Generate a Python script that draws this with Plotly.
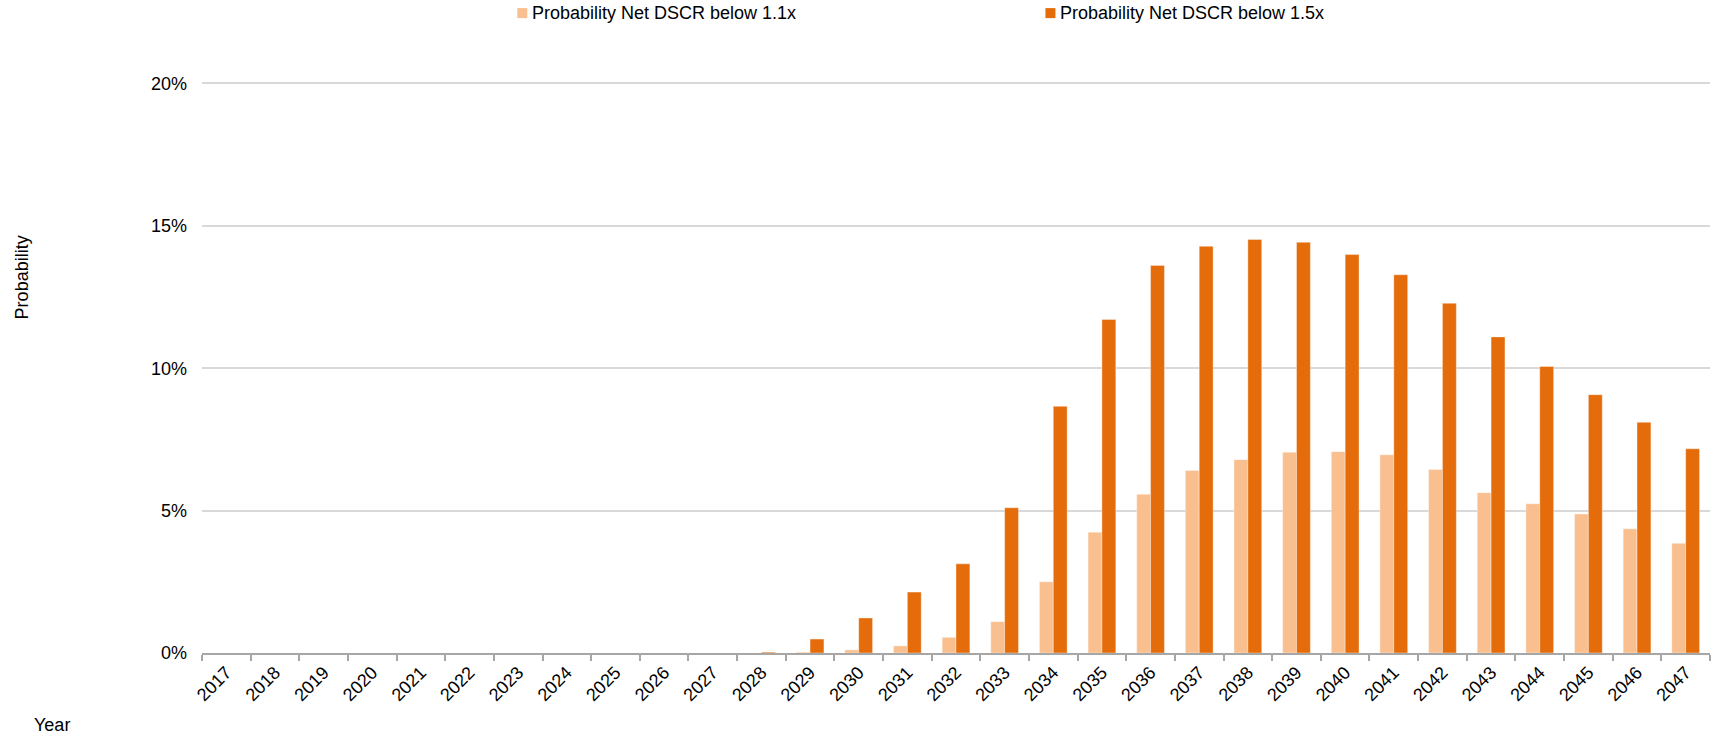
import plotly.graph_objects as go

# Years on the horizontal axis
years = [str(y) for y in range(2017, 2048)]

# Probability (%) that Net DSCR falls below 1.1x
prob_below_1_1 = [0, 0, 0, 0, 0, 0, 0, 0, 0, 0, 0, 0.0, 0.03, 0.11, 0.25,
                  0.55, 1.10, 2.50, 4.24, 5.57, 6.41, 6.79, 7.05, 7.07, 6.96,
                  6.44, 5.63, 5.24, 4.88, 4.36, 3.85]

# Probability (%) that Net DSCR falls below 1.5x
prob_below_1_5 = [0, 0, 0, 0, 0, 0, 0, 0, 0, 0, 0, 0.03, 0.49, 1.23, 2.14,
                  3.13, 5.10, 8.66, 11.71, 13.61, 14.28, 14.52, 14.42, 13.99, 13.28,
                  12.28, 11.10, 10.06, 9.07, 8.10, 7.17]

series_names = ["Probability Net DSCR below 1.1x", "Probability Net DSCR below 1.5x"]
y_ticks = [0, 5, 10, 15, 20]
y_tick_labels = ["0%", "5%", "10%", "15%", "20%"]

LIGHT = "#F9BF8F"
DARK = "#E46C0A"
FONT = "Liberation Sans, Arial, sans-serif"

W, H = 1714, 737
Y_MAX = 20.05
ML, MR, MT, MB = 201.5, 3.5, 82.2, 83.7
PW, PH = W - ML - MR, H - MT - MB


def px_to_paper(px, py):
    return (px - ML) / PW, (H - MB - py) / PH


fig = go.Figure()
for name, vals, col in [(series_names[0], prob_below_1_1, LIGHT),
                        (series_names[1], prob_below_1_5, DARK)]:
    fig.add_trace(go.Bar(
        x=years, y=vals, name=name,
        marker=dict(color=col, line=dict(color="rgba(255,255,255,0.6)", width=0.6)),
        showlegend=False,
    ))

# Legend drawn as squares and labels above the plot
legend_items = [(517, LIGHT, series_names[0]), (1045.5, DARK, series_names[1])]
for sx, col, label in legend_items:
    x0, y0 = px_to_paper(sx, 18.3)
    x1, y1 = px_to_paper(sx + 10, 8.3)
    fig.add_shape(type="rect", xref="paper", yref="paper",
                  x0=x0, x1=x1, y0=y0, y1=y1,
                  fillcolor=col, line=dict(width=0))
    tx, ty = px_to_paper(sx + 13, 13.5)
    fig.add_annotation(xref="paper", yref="paper", x=tx, y=ty,
                       text=label, showarrow=False, xanchor="left", yanchor="middle",
                       font=dict(family=FONT, size=18, color="#000000"))

# Axis titles
ax, ay = px_to_paper(21.5, 277.5)
fig.add_annotation(xref="paper", yref="paper", x=ax, y=ay, text="Probability",
                   textangle=-90, showarrow=False, xanchor="center", yanchor="middle",
                   font=dict(family=FONT, size=18, color="#000000"))
bx, by = px_to_paper(51.5, 725)
fig.add_annotation(xref="paper", yref="paper", x=bx, y=by, text="Year",
                   showarrow=False, xanchor="center", yanchor="middle",
                   font=dict(family=FONT, size=18, color="#000000"))

fig.update_layout(
    width=W, height=H,
    margin=dict(l=ML, r=MR, t=MT, b=MB, pad=0),
    paper_bgcolor="white", plot_bgcolor="white",
    barmode="group", bargap=0.43, bargroupgap=0,
    font=dict(family=FONT, size=18, color="#000000"),
    xaxis=dict(
        type="category", tickangle=-45, tickson="boundaries",
        ticks="outside", ticklen=6, tickwidth=2, tickcolor="#A6A6A6",
        showline=True, linecolor="#A6A6A6", linewidth=2,
        showgrid=False, tickfont=dict(family=FONT, size=18, color="#000000"),
    ),
    yaxis=dict(
        range=[0, Y_MAX], tickvals=y_ticks, ticktext=y_tick_labels,
        showgrid=True, gridcolor="#D9D9D9", gridwidth=1.5,
        zeroline=False, showline=False, ticks="", ticklabelstandoff=14,
        tickfont=dict(family=FONT, size=18, color="#000000"),
    ),
)

fig.write_html("out.html")
